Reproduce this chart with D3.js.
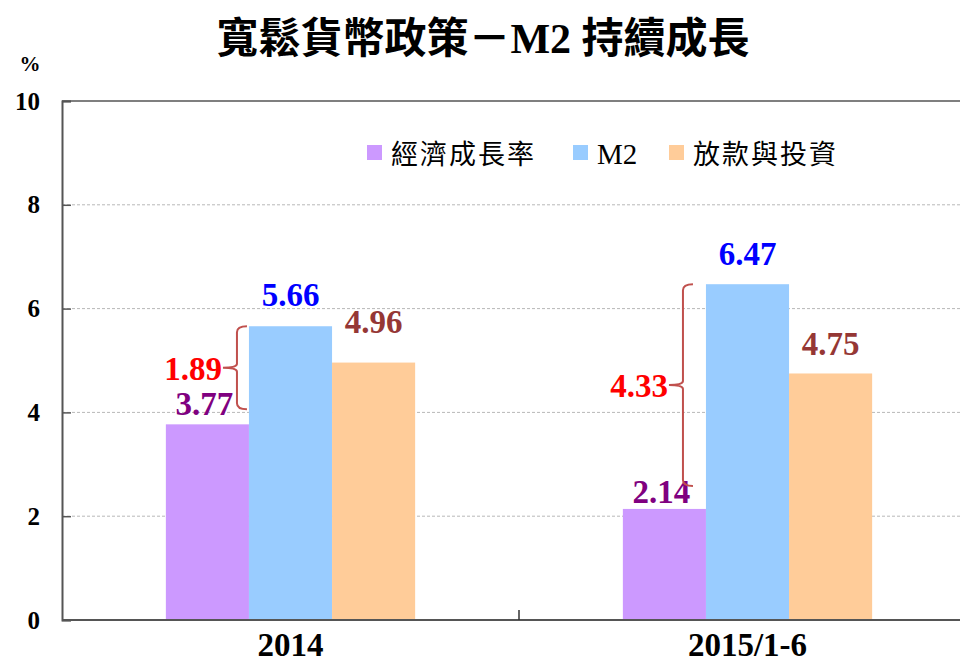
<!DOCTYPE html>
<html lang="zh-Hant">
<head>
<meta charset="utf-8">
<title>M2</title>
<script src="https://d3js.org/d3.v7.min.js"></script>
<style>
  body { margin: 0; background: #fff; }
</style>
</head>
<body>
<script>
// data
var categories = ["2014", "2015/1-6"];
var seriesNames = ["經濟成長率", "M2", "放款與投資"];
var gdpGrowth = [3.77, 2.14];
var m2Growth = [5.66, 6.47];
var loans = [4.96, 4.75];
var yTicks = [0, 2, 4, 6, 8, 10];

var values = [gdpGrowth, m2Growth, loans];
var barColors = ["#CC99FF", "#99CCFF", "#FFCC99"];
var labelColors = ["#800080", "#0000FF", "#953735"];
var labelLift = [[9, 20, 30], [6, 19, 18]];
var braceShift = [-12, -23];

var W = 960, H = 665;
var serif = "'Liberation Serif', 'Noto Sans CJK TC', serif";
var cjk = "'Liberation Serif', 'Noto Sans CJK TC', sans-serif";

var svg = d3.select("body").append("svg").attr("width", W).attr("height", H);

var x0 = d3.scaleBand().domain(categories).range([62, 976]);
var x1 = d3.scaleBand().domain(seriesNames).range([0, x0.bandwidth()]).paddingOuter(1.25);
var y = d3.scaleLinear().domain([0, 10]).range([620, 101]);

// title
svg.append("text").attr("x", 483).attr("y", 53).attr("text-anchor", "middle")
  .style("font-family", cjk).style("font-weight", "bold").style("font-size", "42px")
  .text("寬鬆貨幣政策－M2 持續成長");

svg.append("text").attr("x", 30).attr("y", 71).attr("text-anchor", "middle")
  .style("font-family", serif).style("font-weight", "bold").style("font-size", "21px").text("%");

// gridlines
svg.append("g").selectAll("line").data(yTicks.filter(function(d){return d > 0 && d < 10}))
  .enter().append("line")
  .attr("x1", 62).attr("x2", W).attr("y1", function(d){return y(d)}).attr("y2", function(d){return y(d)})
  .attr("stroke", "#b8b8b8").attr("stroke-dasharray", "3,2").attr("stroke-width", 1);

// bars
categories.forEach(function(c, ci) {
  seriesNames.forEach(function(s, si) {
    var v = values[si][ci];
    svg.append("rect").attr("x", x0(c) + x1(s)).attr("y", y(v))
      .attr("width", x1.bandwidth()).attr("height", y(0) - y(v)).attr("fill", barColors[si]);
    svg.append("text").attr("x", x0(c) + x1(s) + x1.bandwidth() / 2 - (si == 0 ? 3 : 0))
      .attr("y", y(v) - labelLift[ci][si]).attr("text-anchor", "middle")
      .style("font-family", serif).style("font-weight", "bold").style("font-size", "33px")
      .attr("fill", labelColors[si]).text(v.toFixed(2));
  });
});

// braces between GDP and M2
categories.forEach(function(c, ci) {
  var hi = m2Growth[ci], lo = gdpGrowth[ci];
  var bx = x0(c) + x1("M2") + braceShift[ci];
  var yt = y(hi), yb = y(lo) - 15 - ci * 8;
  var ym = (yt + yb) / 2;
  var p = d3.path();
  p.moveTo(bx + 10, yt);
  p.quadraticCurveTo(bx, yt, bx, yt + 6);
  p.lineTo(bx, ym - 4);
  p.quadraticCurveTo(bx, ym, bx - 14, ym);
  p.moveTo(bx - 14, ym);
  p.quadraticCurveTo(bx, ym, bx, ym + 4);
  p.lineTo(bx, yb - 6);
  p.quadraticCurveTo(bx, yb, bx + 10, yb);
  svg.append("path").attr("d", p.toString()).attr("fill", "none")
    .attr("stroke", "#C0504D").attr("stroke-width", 2);
  svg.append("text").attr("x", bx - 15).attr("y", ym + 12).attr("text-anchor", "end")
    .style("font-family", serif).style("font-weight", "bold").style("font-size", "33px")
    .attr("fill", "#FF0000").text((hi - lo).toFixed(2));
});

// axes
var yAxis = d3.axisLeft(y).tickValues(yTicks).tickSize(-9).tickPadding(22).tickFormat(d3.format("d"));
var gy = svg.append("g").attr("transform", "translate(62,0)").call(yAxis);
gy.select(".domain").attr("stroke", "#555").attr("stroke-width", 2);
gy.selectAll(".tick line").attr("stroke", "#555").attr("stroke-width", 1.5);
gy.selectAll(".tick text").style("font-family", serif).style("font-weight", "bold")
  .style("font-size", "25px").attr("fill", "#000");

svg.append("line").attr("x1", 62).attr("x2", W).attr("y1", y(10)).attr("y2", y(10))
  .attr("stroke", "#555").attr("stroke-width", 1.5);
svg.append("line").attr("x1", 62).attr("x2", W).attr("y1", y(0)).attr("y2", y(0))
  .attr("stroke", "#555").attr("stroke-width", 2);
svg.append("line").attr("x1", x0(categories[1])).attr("x2", x0(categories[1]))
  .attr("y1", y(0)).attr("y2", y(0) - 10).attr("stroke", "#333").attr("stroke-width", 1.5);

svg.append("g").selectAll("text").data(categories).enter().append("text")
  .attr("x", function(d){return x0(d) + x0.bandwidth() / 2}).attr("y", 656)
  .attr("text-anchor", "middle").style("font-family", serif).style("font-weight", "bold")
  .style("font-size", "33px").text(function(d){return d});

// legend
var legendX = [367, 573, 669];
seriesNames.forEach(function(s, i) {
  svg.append("rect").attr("x", legendX[i]).attr("y", 145).attr("width", 15).attr("height", 15)
    .attr("fill", barColors[i]);
  svg.append("text").attr("x", legendX[i] + 24).attr("y", 164)
    .style("font-family", cjk).style("font-size", i == 1 ? "29px" : "27px")
    .style("letter-spacing", i == 1 ? "0px" : "2px")
    .text(s);
});
</script>
</body>
</html>
